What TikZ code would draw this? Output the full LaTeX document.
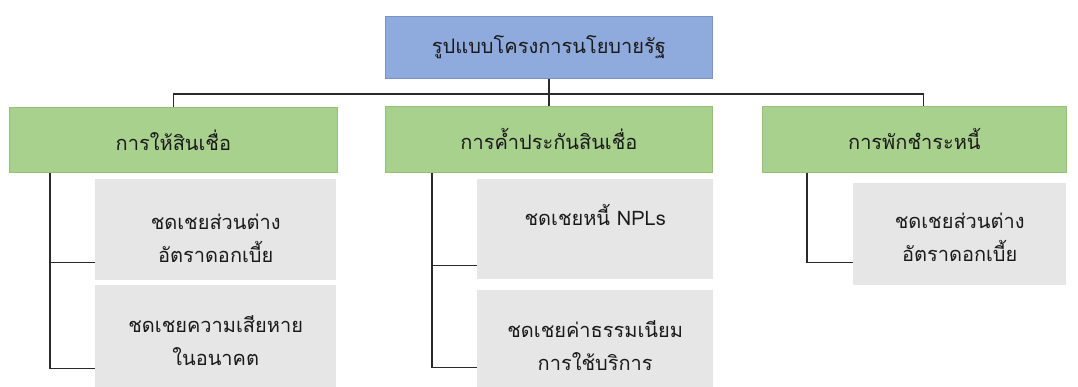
\documentclass[tikz,border=0pt]{standalone}
\usepackage{fontspec}
\newfontfamily\thaifont[Script=Thai]{Loma}
\definecolor{topblue}{HTML}{8FAADC}
\definecolor{topborder}{HTML}{7A93C4}
\definecolor{catgreen}{HTML}{A9D18E}
\definecolor{catborder}{HTML}{94C078}
\definecolor{subgray}{HTML}{E7E6E6}
\definecolor{linegray}{HTML}{2A2A2A}
\definecolor{txt}{HTML}{1A1A1A}
\tikzset{
  box/.style={anchor=north west, inner sep=0pt, align=center, text=txt,
    font=\thaifont\fontsize{20}{33}\selectfont},
  topbox/.style={box, fill=topblue, draw=topborder, line width=0.8pt},
  catbox/.style={box, fill=catgreen, draw=catborder, line width=0.8pt},
  subbox/.style={box, fill=subgray, text depth=0pt},
  conn/.style={draw=linegray, line width=1.3pt}
}
\begin{document}
\begin{tikzpicture}[x=1pt,y=-1pt]
\useasboundingbox (0,0) rectangle (1078,387);
\fill[white] (0,0) rectangle (1078,387);
% top
\node[topbox, minimum width=327pt, minimum height=62pt] (top) at (385,16) {รูปแบบโครงการนโยบายรัฐ};
% categories
\node[catbox, minimum width=328pt, minimum height=65pt] (g1) at (9,107) {การให้สินเชื่อ};
\node[catbox, minimum width=327pt, minimum height=66pt] (g2) at (385,106) {การค้ำประกันสินเชื่อ};
\node[catbox, minimum width=304pt, minimum height=66pt] (g3) at (762,106) {การพักชำระหนี้};
% sub boxes
\node[subbox, minimum width=241pt, minimum height=101pt, text height=65pt] (s1) at (95,179) {ชดเชยส่วนต่าง\\อัตราดอกเบี้ย};
\node[subbox, minimum width=241pt, minimum height=104pt, text height=56pt] (s2) at (95,285) {ชดเชยความเสียหาย\\ในอนาคต};
\node[subbox, minimum width=236pt, minimum height=100pt, text height=6pt, text depth=14pt] (s3) at (477,179) {ชดเชยหนี้ NPLs};
\node[subbox, minimum width=236pt, minimum height=99pt, text height=61pt] (s4) at (477,290) {ชดเชยค่าธรรมเนียม\\การใช้บริการ};
\node[subbox, minimum width=213pt, minimum height=102pt, text height=55pt] (s5) at (853,183) {ชดเชยส่วนต่าง\\อัตราดอกเบี้ย};
% connectors top
\coordinate (bus) at (548,94);
\draw[conn] (top.south) -- (g2.north);
\draw[conn] (g1.north) |- (bus) -| ([xshift=9pt]g3.north);
% left branch
\draw[conn] ([xshift=41pt]g1.south west) |- ([yshift=21pt]s2.south west);
\draw[conn] ([yshift=18pt]s1.south west) -- ++(-45,0);
% middle branch
\draw[conn] ([xshift=47pt]g2.south west) |- ([yshift=22pt]s4.south west);
\draw[conn] ([yshift=14pt]s3.south west) -- ++(-45,0);
% right branch
\draw[conn] ([xshift=45pt]g3.south west) |- ([yshift=23pt]s5.south west);
\end{tikzpicture}
\end{document}
